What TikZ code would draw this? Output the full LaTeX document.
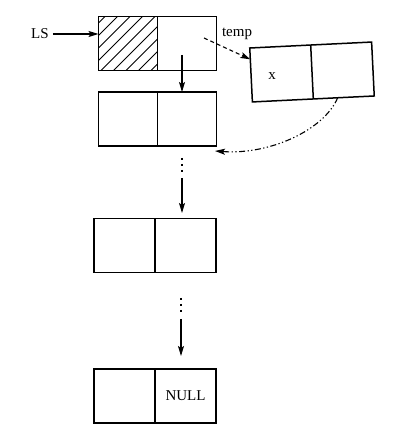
\documentclass[tikz,border=0pt]{standalone}
\usepackage{fontspec}
\setmainfont{Liberation Serif}
\usetikzlibrary{arrows.meta,calc}
\begin{document}
\begin{tikzpicture}[x=1pt,y=1pt,
  cell/.style={draw,line width=1.5pt,minimum width=59pt,minimum height=54pt,inner sep=0pt,outer sep=0pt},
  cellw/.style={cell,minimum width=61pt},
  wide/.style={draw,line width=1.5pt,minimum width=122pt,minimum height=54pt,inner sep=0pt,outer sep=0pt},
  lbl/.style={font=\fontsize{15}{17}\selectfont,inner sep=0pt},
  arr/.style={line width=1.1pt,-{Stealth[length=10pt,width=6pt,inset=2pt]}},
  dotcol/.style={line width=1.6pt,dash pattern=on 1.6pt off 4.4pt}]
\useasboundingbox (0,0) rectangle (412,439);
% box 1
\node[cell] (a1) at (128,395.5) {};
\node[cell] (a2) at (187,395.5) {};
\begin{scope}
\clip (a1.south west) rectangle (a1.north east);
\foreach \i in {0,...,9}{
  \draw[line width=1pt] ($(a1.south west)+(-60+12.5*\i,0)$) -- ++(60,60);
}
\end{scope}
\node[cell] at (128,395.5) {};
% box 2
\node[cell] (b1) at (128,320) {};
\node[cell] (b2) at (187,320) {};
% box 3
\node[cellw] (c1) at (124.5,193.5) {};
\node[cellw] (c2) at (185.5,193.5) {};
% box 4
\node[cellw] (d1) at (124.5,43) {};
\node[cellw] (d2) at (185.5,43) {\fontsize{15}{17}\selectfont NULL};
% temp box
\node[wide,rotate=2.8] (t) at (312,367) {};
\draw[line width=1.5pt] ($(t.north west)!0.5!(t.north east)$) -- ($(t.south west)!0.5!(t.south east)$);
\node[lbl] (x) at (272,363) {x};
% labels
\node[lbl] (ls) at (40,405) {LS};
\node[lbl] (tmp) at (237,405) {temp};
% arrows
\coordinate (lsA) at ($(ls.east)+(4,0)$);
\draw[arr] (lsA) -- (a1.west |- lsA);
\coordinate (p1) at (182,384);
\draw[arr] (p1) -- (p1 |- b2.north);
\coordinate (q1) at (204,401);
\draw[arr,dash pattern=on 4pt off 3pt] (q1) -- ($(t.north west)!0.21!(t.south west)$);
\coordinate (r1) at ($(t.south west)!0.70!(t.south east)$);
\coordinate (r2) at (215,288);
\draw[line width=1.1pt,-{Stealth[length=10pt,width=6pt,inset=2pt]},dash pattern=on 6pt off 2.5pt on 1.2pt off 2.5pt on 1.2pt off 2.5pt]
  (r1) .. controls (324,309) and (270,284) .. (r2);
% dots and arrows to box 3
\coordinate (u1) at (182,281);
\draw[dotcol] (u1) -- (182,266);
\coordinate (u2) at (182,261);
\draw[arr] (u2) -- (182,226);
% dots and arrows to box 4
\coordinate (v1) at (181,141);
\draw[dotcol] (v1) -- (181,126);
\coordinate (v2) at (181,120);
\draw[arr] (v2) -- (181,83);
\end{tikzpicture}
\end{document}
